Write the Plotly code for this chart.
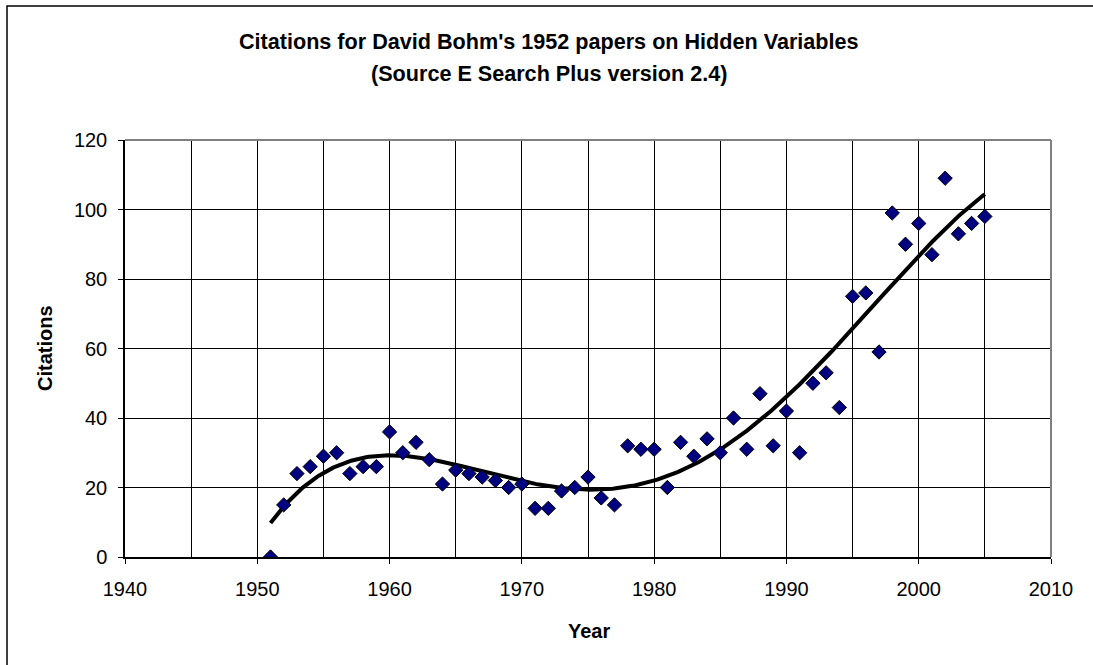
import numpy as np
import plotly.graph_objects as go
from numpy.polynomial import Polynomial

years = list(range(1951, 2006))
citations = [0, 15, 24, 26, 29, 30, 24, 26, 26, 36,
             30, 33, 28, 21, 25, 24, 23, 22, 20, 21,
             14, 14, 19, 20, 23, 17, 15, 32, 31, 31,
             20, 33, 29, 34, 30, 40, 31, 47, 32, 42,
             30, 50, 53, 43, 75, 76, 59, 99, 90, 96,
             87, 109, 93, 96, 98]
trend_degree = 4
x_ticks = [1940, 1950, 1960, 1970, 1980, 1990, 2000, 2010]
y_ticks = [0, 20, 40, 60, 80, 100, 120]
title_line1 = "Citations for David Bohm's 1952 papers on Hidden Variables"
title_line2 = "(Source E Search Plus version 2.4)"

W, H = 1093, 665
L, R, T, B = 125, 42, 140, 108
PW, PH = W - L - R, H - T - B

def px(xp):
    return (xp - L) / PW

def py(yp):
    return (H - B - yp) / PH

FONT = "Liberation Sans, Arial, sans-serif"

fig = go.Figure()

# Polynomial trendline fitted to the data (as the spreadsheet trendline)
trend = Polynomial.fit(years, citations, trend_degree)
xs = np.linspace(min(years), max(years), 400)
fig.add_trace(go.Scatter(x=xs, y=trend(xs), mode="lines",
                         line=dict(color="black", width=4), showlegend=False,
                         hoverinfo="skip"))

fig.add_trace(go.Scatter(
    x=years, y=citations, mode="markers",
    marker=dict(symbol="diamond", size=11, color="#000080", line=dict(color="black", width=1)),
    showlegend=False))

axis_common = dict(
    showline=True, linecolor="black", linewidth=1.5,
    ticks="outside", ticklen=5, tickcolor="black", tickwidth=1,
    showgrid=True, gridcolor="black", gridwidth=1,
    zeroline=False,
    tickfont=dict(family=FONT, size=20, color="black"),
)

fig.update_layout(
    width=W, height=H,
    margin=dict(l=L, r=R, t=T, b=B, autoexpand=False),
    paper_bgcolor="white", plot_bgcolor="white",
    showlegend=False,
    xaxis=dict(range=[1940, 2010], tickvals=x_ticks, ticklabelstandoff=8,
               minor=dict(dtick=5, tick0=1940, showgrid=True, gridcolor="black", gridwidth=1, ticks=""),
               **axis_common),
    yaxis=dict(range=[0, 120], tickvals=y_ticks, ticklabelstandoff=7, **axis_common),
)

fig.add_shape(type="line", xref="paper", yref="paper", x0=0, x1=1, y0=1, y1=1,
              line=dict(color="#808080", width=2))
fig.add_shape(type="line", xref="paper", yref="paper", x0=1, x1=1, y0=0, y1=1,
              line=dict(color="#808080", width=2))
fig.add_shape(type="rect", xref="paper", yref="paper",
              x0=px(7), x1=px(1110), y0=py(680), y1=py(6),
              line=dict(color="black", width=1.5))

fig.add_annotation(text=f"<b>{title_line1}</b>", xref="paper", yref="paper",
                   x=px(549), y=py(42), showarrow=False, xanchor="center", yanchor="middle",
                   font=dict(family=FONT, size=21.6, color="black"))
fig.add_annotation(text=f"<b>{title_line2}</b>", xref="paper", yref="paper",
                   x=px(549), y=py(73), showarrow=False, xanchor="center", yanchor="middle",
                   font=dict(family=FONT, size=21.6, color="black"))
fig.add_annotation(text="<b>Year</b>", xref="paper", yref="paper",
                   x=px(589), y=py(631), showarrow=False, xanchor="center", yanchor="middle",
                   font=dict(family=FONT, size=20, color="black"))
fig.add_annotation(text="<b>Citations</b>", xref="paper", yref="paper",
                   x=px(45), y=py(348), showarrow=False, xanchor="center", yanchor="middle",
                   textangle=-90, font=dict(family=FONT, size=20, color="black"))

fig.write_html("out.html", config={"displayModeBar": False},
               post_script="document.body.style.margin='0';")
